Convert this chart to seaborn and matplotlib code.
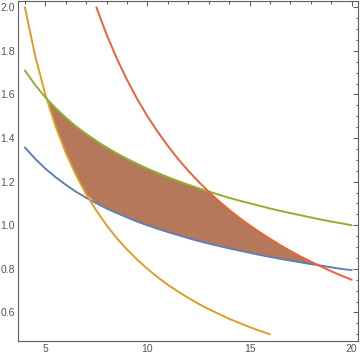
import matplotlib
matplotlib.use('Agg')
import matplotlib.pyplot as plt
from matplotlib.ticker import MultipleLocator
import numpy as np
import pandas as pd
import seaborn as sns

# shared x grid (values every 0.5)
x_all = [4.0, 4.5, 5.0, 5.5, 6.0, 6.5, 7.0, 7.5, 8.0, 8.5, 9.0, 9.5, 10.0, 10.5,
         11.0, 11.5, 12.0, 12.5, 13.0, 13.5, 14.0, 14.5, 15.0, 15.5, 16.0, 16.5,
         17.0, 17.5, 18.0, 18.5, 19.0, 19.5, 20.0]

blue = [1.357, 1.305, 1.260, 1.221, 1.186, 1.154, 1.126, 1.101, 1.077, 1.056, 1.036,
        1.017, 1.000, 0.984, 0.969, 0.955, 0.941, 0.928, 0.916, 0.905, 0.894, 0.884,
        0.874, 0.864, 0.855, 0.846, 0.838, 0.830, 0.822, 0.815, 0.807, 0.800, 0.794]

green = [1.710, 1.644, 1.587, 1.538, 1.494, 1.454, 1.419, 1.387, 1.357, 1.330, 1.305,
         1.282, 1.260, 1.240, 1.221, 1.203, 1.186, 1.170, 1.155, 1.140, 1.126, 1.113,
         1.101, 1.089, 1.077, 1.066, 1.056, 1.046, 1.036, 1.026, 1.017, 1.009, 1.000]

# orange runs from x=4 to x=16 (cut at the bottom of the range)
orange = [2.000, 1.778, 1.600, 1.455, 1.333, 1.231, 1.143, 1.067, 1.000, 0.941, 0.889,
          0.842, 0.800, 0.762, 0.727, 0.696, 0.667, 0.640, 0.615, 0.593, 0.571, 0.552,
          0.533, 0.516, 0.500]

# red runs from x=7.5 to x=20 (cut at the top of the range)
red = [2.000, 1.875, 1.765, 1.667, 1.579, 1.500, 1.429, 1.364, 1.304, 1.250, 1.200,
       1.154, 1.111, 1.071, 1.034, 1.000, 0.968, 0.938, 0.909, 0.882, 0.857, 0.833,
       0.811, 0.789, 0.769, 0.750]

c_blue = '#5e81b5'
c_orange = '#e19c24'
c_green = '#8fb032'
c_red = '#eb6235'
c_fill = '#b5785a'
c_frame = '#5f5f5f'

sns.set_style('white')
plt.rcParams['font.family'] = ['Liberation Sans', 'DejaVu Sans']

x = np.array(x_all)
n = len(x)
orange_full = np.full(n, np.nan)
orange_full[:len(orange)] = orange
red_full = np.full(n, np.nan)
red_full[n - len(red):] = red

df = pd.DataFrame({'x': x, 'blue': blue, 'green': green,
                   'orange': orange_full, 'red': red_full})

lower = np.fmax(df['blue'], df['orange'])
upper = np.fmin(df['green'], df['red'])

fig = plt.figure(figsize=(3.6, 3.58), dpi=100)
ax = fig.add_axes([0.051, 0.048, 0.944, 0.950])

ax.fill_between(df['x'], lower, upper, where=lower <= upper, interpolate=True,
                color=c_fill, lw=0, zorder=1)

for col, c in [('blue', c_blue), ('orange', c_orange), ('green', c_green), ('red', c_red)]:
    sub = df.dropna(subset=[col])
    sns.lineplot(data=sub, x='x', y=col, color=c, lw=1.4, estimator=None,
                 sort=False, ax=ax, zorder=3)

ax.set_xlim(3.68, 20.32)
ax.set_ylim(0.47, 2.03)
ax.set_xlabel('')
ax.set_ylabel('')

ax.xaxis.set_major_locator(MultipleLocator(5))
ax.xaxis.set_minor_locator(MultipleLocator(1))
ax.yaxis.set_major_locator(MultipleLocator(0.2))
ax.yaxis.set_minor_locator(MultipleLocator(0.05))
ax.yaxis.set_major_formatter(plt.FuncFormatter(lambda v, p: f'{v:.1f}'))

ax.tick_params(which='both', direction='in', top=True, right=True,
               color=c_frame, width=0.8, labelsize=7.5, labelcolor='#555555')
ax.tick_params(which='major', length=3.5, pad=2.5)
ax.tick_params(which='minor', length=1.8)
for s in ax.spines.values():
    s.set_color(c_frame)
    s.set_linewidth(0.8)

fig.savefig('out.png', dpi=100)
